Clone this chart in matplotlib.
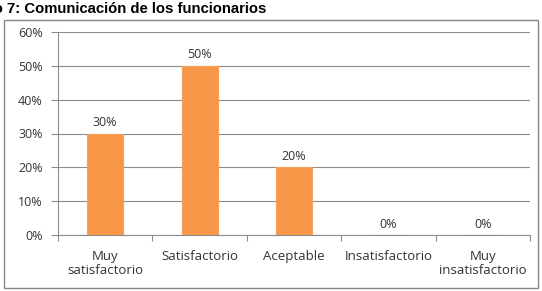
import matplotlib.pyplot as plt
from matplotlib.patches import Rectangle
from matplotlib.ticker import PercentFormatter

categories = ["Muy\nsatisfactorio", "Satisfactorio", "Aceptable", "Insatisfactorio", "Muy\ninsatisfactorio"]
values = [30, 50, 20, 0, 0]
yticks = [0, 10, 20, 30, 40, 50, 60]
title = "Gráfico 7: Comunicación de los funcionarios"

fig = plt.figure(figsize=(5.42, 2.91), dpi=100)
fig.patch.set_facecolor("white")

# outer chart frame
fig.add_artist(Rectangle((4/542, 1-288/291), 534/542, 268/291, transform=fig.transFigure,
                         facecolor="none", edgecolor="#868686", lw=1.0))

# title is cropped on the left in the source image
fig.text(-0.0904, 1-9/291, title, fontsize=10.7, fontweight="bold",
         family="Liberation Sans", va="center", ha="left")

ax = fig.add_axes([58/542, 1-235/291, 472/542, 203/291])
x = range(len(categories))
bars = ax.bar(x, values, width=0.38, color="#F79646", edgecolor="#F5A05C", lw=0.8, zorder=3)

for xi, v in zip(x, values):
    ax.text(xi, v + 1.3, f"{v}%", ha="center", va="bottom", fontsize=9,
            family="Open Sans", color="#333333")

ax.set_ylim(0, 60)
ax.set_xlim(-0.5, len(categories) - 0.5)
ax.set_yticks(yticks)
ax.yaxis.set_major_formatter(PercentFormatter(decimals=0))
ax.grid(axis="y", color="#8c8c8c", lw=0.8, zorder=0)
ax.set_axisbelow(True)

ax.set_xticks([i + 0.5 for i in range(-1, len(categories))], minor=False)
ax.set_xticklabels([])
ax.set_xticks(list(x), minor=True)
ax.set_xticklabels(categories, minor=True, fontsize=9.5, family="Open Sans", color="#333333",
                   linespacing=1.05)
ax.tick_params(axis="x", which="minor", length=0, pad=11)
ax.tick_params(axis="x", which="major", length=4, color="#8c8c8c")
ax.tick_params(axis="y", length=5, color="#8c8c8c", labelsize=9, labelcolor="#333333", pad=6)
for lab in ax.get_yticklabels():
    lab.set_family("Open Sans")

for s in ["top", "right"]:
    ax.spines[s].set_visible(False)
for s in ["left", "bottom"]:
    ax.spines[s].set_color("#8c8c8c")

fig.savefig("out.png", dpi=100)
